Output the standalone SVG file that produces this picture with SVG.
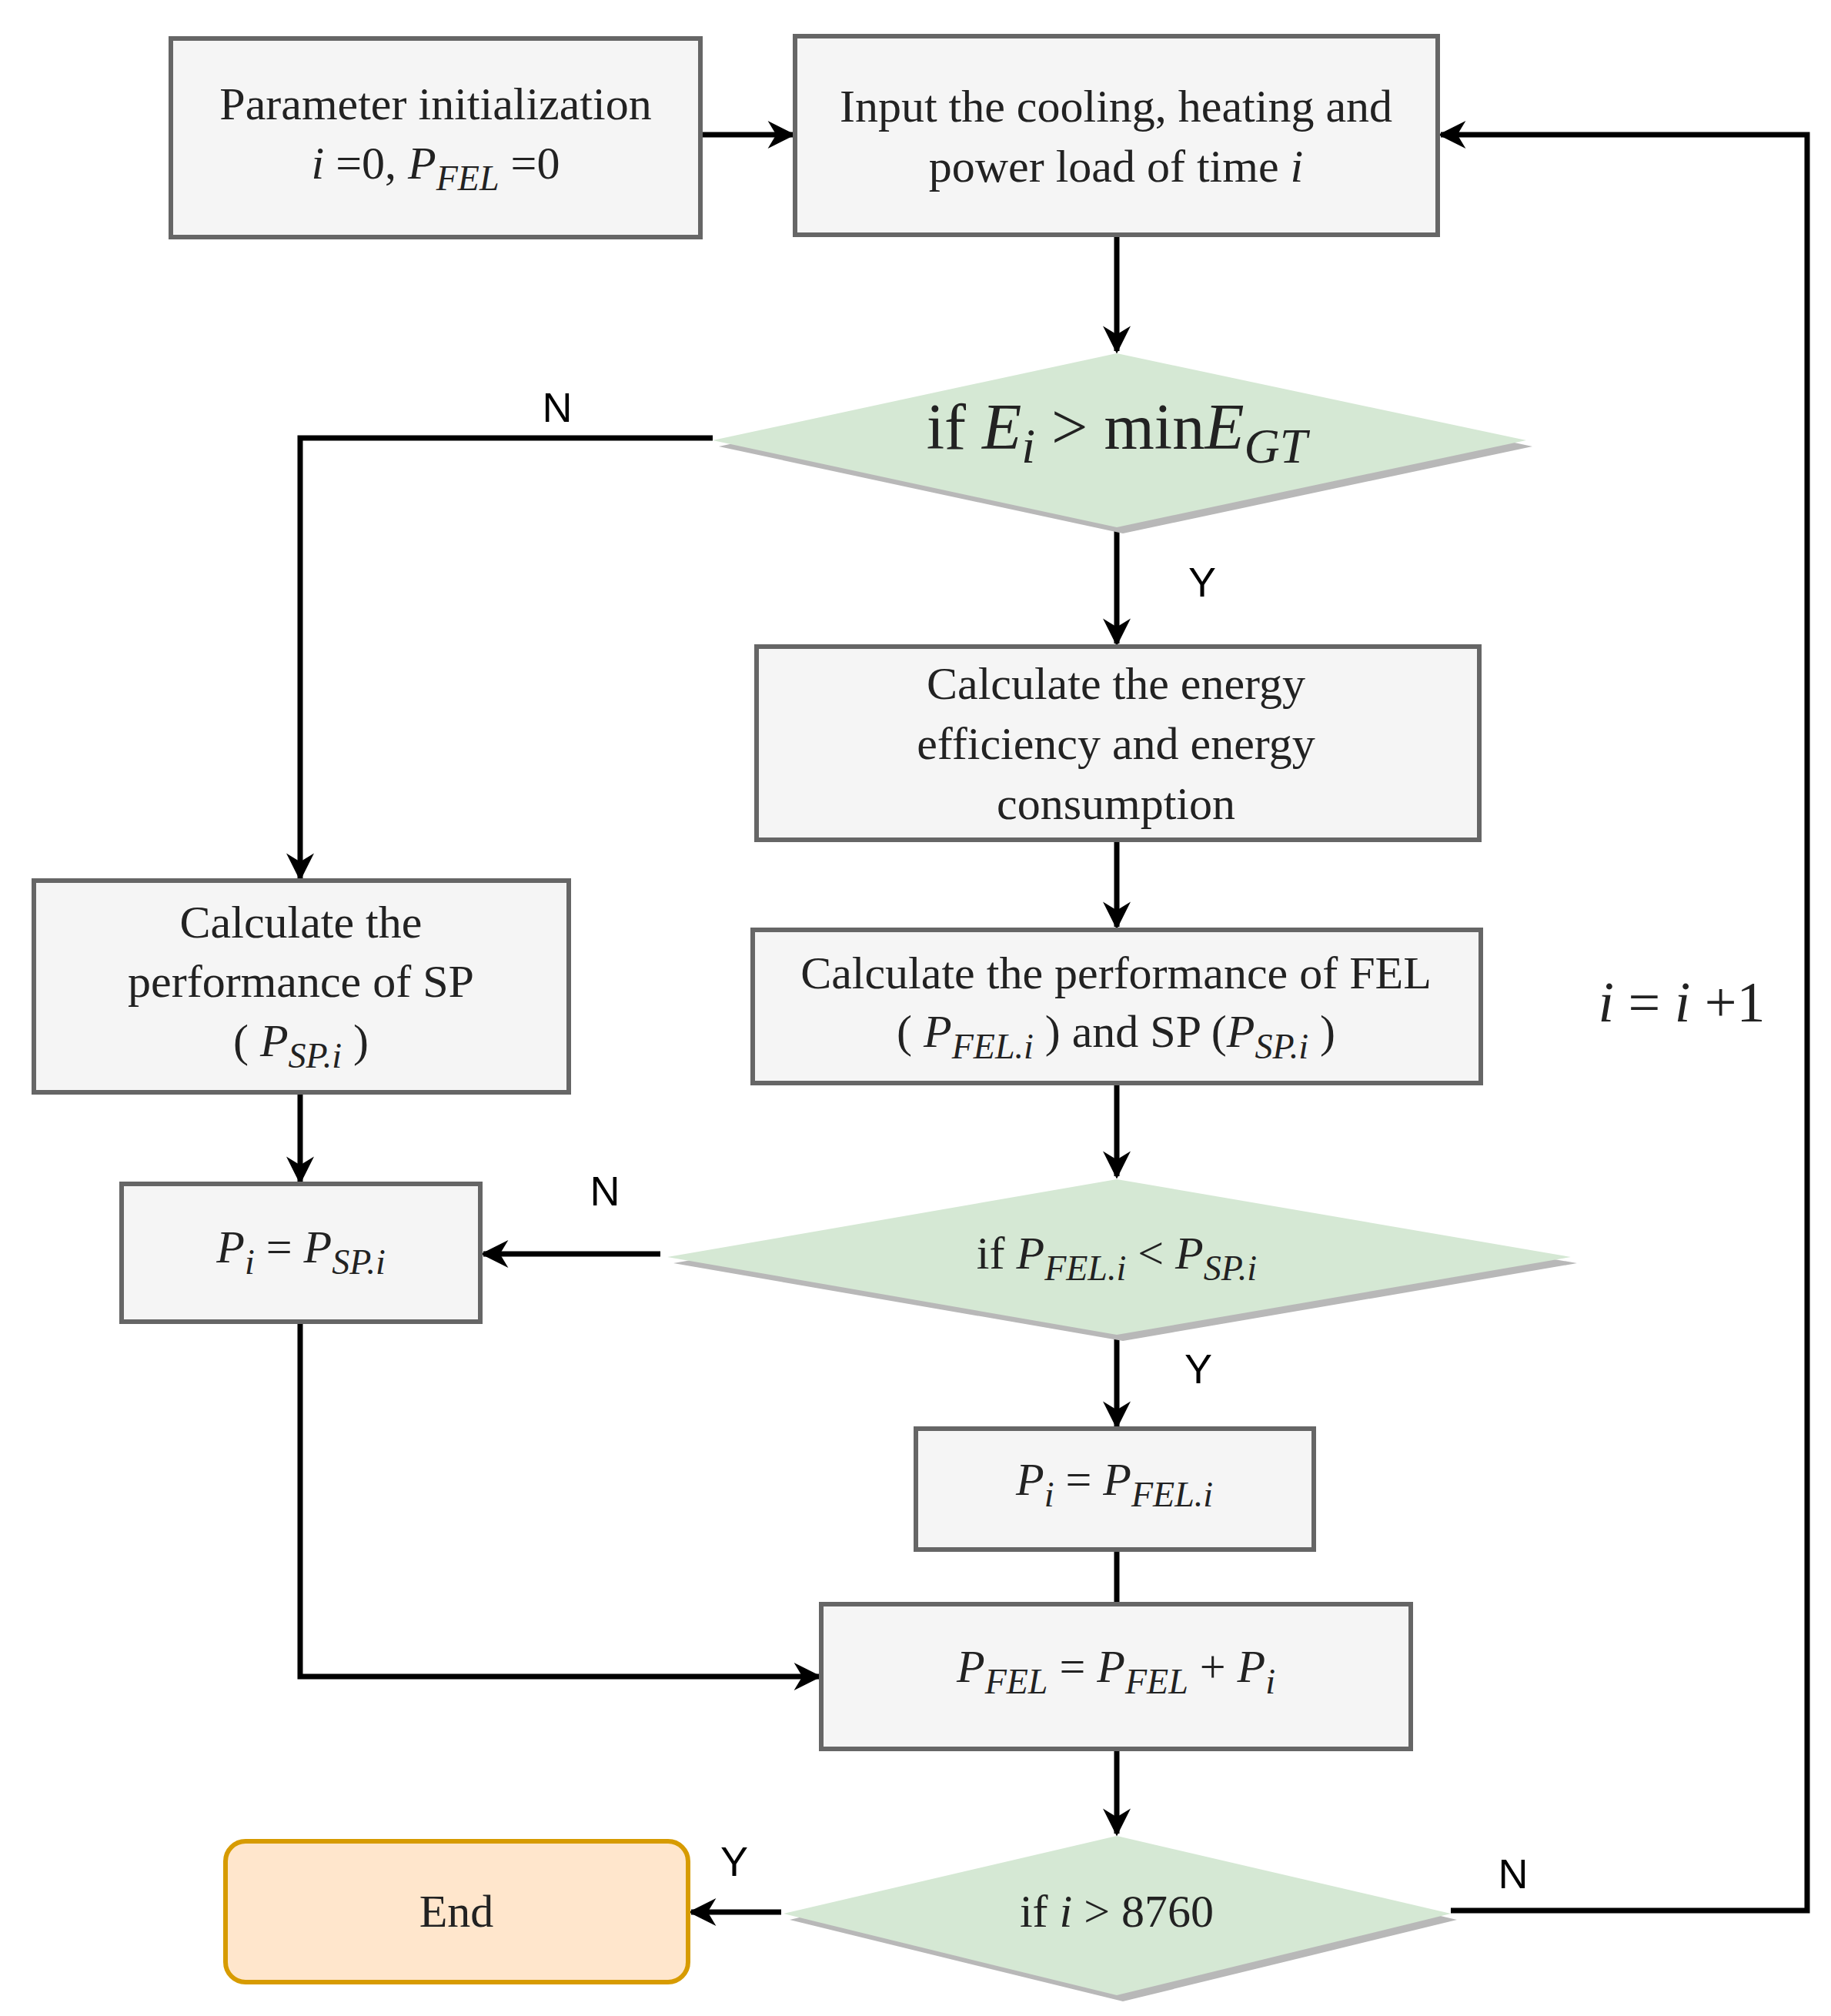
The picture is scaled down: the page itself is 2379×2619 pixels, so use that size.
<svg xmlns="http://www.w3.org/2000/svg" width="2379" height="2619" viewBox="0 0 2379 2619">
<defs>
<marker id="ah" markerWidth="40" markerHeight="36" refX="9" refY="5" orient="auto" markerUnits="userSpaceOnUse" viewBox="0 0 10 10"><path d="M0,0 L10,5 L0,10 L3,5 Z" fill="#000"/></marker>
<style>
.box{fill:#f5f5f5;stroke:#666;stroke-width:6}
.dia{fill:#d5e8d4;stroke:none}
.sh{fill:#b8b8b8}
.t{font-family:"Liberation Serif",serif;font-size:60px;fill:#222;text-anchor:middle}
.m{font-style:italic}
.lab{font-family:"Liberation Sans",sans-serif;font-size:54px;fill:#000;text-anchor:middle}
.c{fill:none;stroke:#000;stroke-width:7}
.ca{fill:none;stroke:#000;stroke-width:7;marker-end:url(#ah)}
</style>
</defs>
<rect width="2379" height="2619" fill="#fff"/>
<g id="connectors">
<path class="ca" d="M910,175 H1030"/>
<path class="ca" d="M1451,305 V456"/>
<path class="ca" d="M926,569 H390 V1141"/>
<path class="ca" d="M1451,685 V836"/>
<path class="ca" d="M1451,1091 V1204"/>
<path class="ca" d="M1451,1407 V1528"/>
<path class="ca" d="M858,1629 H628"/>
<path class="ca" d="M390,1419 V1535"/>
<path class="ca" d="M1451,1734 V1853"/>
<path class="c" d="M1451,2013 V2084"/>
<path class="ca" d="M390,1717 V2178 H1064"/>
<path class="ca" d="M1451,2272 V2382"/>
<path class="ca" d="M1015,2484 H898"/>
<path class="ca" d="M1885,2482 H2348 V175 H1872"/>
<text class="lab" x="724" y="548">N</text>
<text class="lab" x="1562" y="775">Y</text>
<text class="lab" x="786" y="1566">N</text>
<text class="lab" x="1557" y="1797">Y</text>
<text class="lab" x="954" y="2437">Y</text>
<text class="lab" x="1966" y="2453">N</text>
<text class="t" x="2185" y="1327" style="font-size:74px"><tspan class="m">i</tspan> = <tspan class="m">i</tspan> +1</text>
</g>
<g id="n1"><rect class="box" x="222" y="50" width="688" height="258"/>
<text class="t" x="566" y="155">Parameter initialization</text>
<text class="t" x="566" y="232"><tspan class="m">i</tspan> =0, <tspan class="m">P</tspan><tspan class="m" dy="15" font-size="46">FEL</tspan><tspan dy="-15"> =0</tspan></text></g>
<g id="n2"><rect class="box" x="1033" y="47" width="835" height="258"/>
<text class="t" x="1450" y="158">Input the cooling, heating and</text>
<text class="t" x="1450" y="236">power load of time <tspan class="m">i</tspan></text></g>
<g id="d1"><polygon class="sh" points="1459,467 1991,580 1459,693 934,580"/><polygon class="dia" points="1451,459 1983,572 1451,685 926,572"/>
<text class="t" x="1451" y="583" style="font-size:84px">if  <tspan class="m">E</tspan><tspan class="m" dy="18" font-size="64">i</tspan><tspan dy="-18"> &gt; min</tspan><tspan class="m">E</tspan><tspan class="m" dy="18" font-size="64">GT</tspan></text></g>
<g id="n3"><rect class="box" x="983" y="840" width="939" height="251"/>
<text class="t" x="1450" y="908">Calculate the energy</text>
<text class="t" x="1450" y="986">efficiency and energy</text>
<text class="t" x="1450" y="1064">consumption</text></g>
<g id="n4"><rect class="box" x="978" y="1208" width="946" height="199"/>
<text class="t" x="1450" y="1284">Calculate the performance of FEL</text>
<text class="t" x="1450" y="1360">( <tspan class="m">P</tspan><tspan class="m" dy="15" font-size="46">FEL.i</tspan><tspan dy="-15"> ) and SP (</tspan><tspan class="m">P</tspan><tspan class="m" dy="15" font-size="46">SP.i</tspan><tspan dy="-15"> )</tspan></text></g>
<g id="n5"><rect class="box" x="44" y="1144" width="695" height="275"/>
<text class="t" x="391" y="1218">Calculate the</text>
<text class="t" x="391" y="1295">performance of  SP</text>
<text class="t" x="391" y="1372">( <tspan class="m">P</tspan><tspan class="m" dy="15" font-size="46">SP.i</tspan><tspan dy="-15"> )</tspan></text></g>
<g id="d2"><polygon class="sh" points="1459,1540 2049,1641 1459,1742 875,1641"/><polygon class="dia" points="1451,1532 2041,1633 1451,1734 867,1633"/>
<text class="t" x="1451" y="1648">if  <tspan class="m">P</tspan><tspan class="m" dy="15" font-size="46">FEL.i</tspan><tspan dy="-15"> &lt; </tspan><tspan class="m">P</tspan><tspan class="m" dy="15" font-size="46">SP.i</tspan></text></g>
<g id="n6"><rect class="box" x="158" y="1538" width="466" height="179"/>
<text class="t" x="391" y="1640"><tspan class="m">P</tspan><tspan class="m" dy="15" font-size="46">i</tspan><tspan dy="-15"> = </tspan><tspan class="m">P</tspan><tspan class="m" dy="15" font-size="46">SP.i</tspan></text></g>
<g id="n7"><rect class="box" x="1190" y="1856" width="517" height="157"/>
<text class="t" x="1448" y="1942"><tspan class="m">P</tspan><tspan class="m" dy="15" font-size="46">i</tspan><tspan dy="-15"> = </tspan><tspan class="m">P</tspan><tspan class="m" dy="15" font-size="46">FEL.i</tspan></text></g>
<g id="n8"><rect class="box" x="1067" y="2084" width="766" height="188"/>
<text class="t" x="1450" y="2185"><tspan class="m">P</tspan><tspan class="m" dy="15" font-size="46">FEL</tspan><tspan dy="-15"> = </tspan><tspan class="m">P</tspan><tspan class="m" dy="15" font-size="46">FEL</tspan><tspan dy="-15"> + </tspan><tspan class="m">P</tspan><tspan class="m" dy="15" font-size="46">i</tspan></text></g>
<g id="d3"><polygon class="sh" points="1459,2393 1893,2494 1459,2600 1026,2494"/><polygon class="dia" points="1451,2385 1885,2486 1451,2592 1018,2486"/>
<text class="t" x="1451" y="2503">if <tspan class="m">i</tspan> &gt; 8760</text></g>
<g id="end"><rect x="293" y="2392" width="601" height="183" rx="26" fill="#ffe6cc" stroke="#d79b00" stroke-width="6"/>
<text class="t" x="593" y="2503">End</text></g>
</svg>
